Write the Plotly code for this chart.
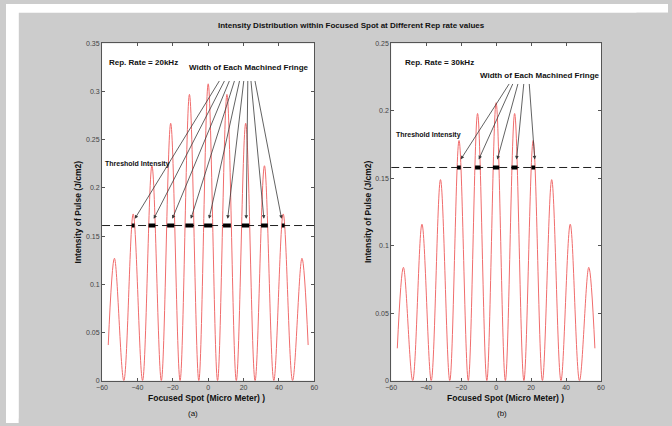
import plotly.graph_objects as go

# ---------------- data ----------------
# (a) Rep. rate 20 kHz
pos_a = [-56.5, -53.0, -47.7, -42.4, -37.1, -31.8, -26.5, -21.2, -15.9, -10.6, -5.3, 0.0,
         5.3, 10.6, 15.9, 21.2, 26.5, 31.8, 37.1, 42.4, 47.7, 53.0, 56.5]
int_a = [0.037, 0.127, 0.0, 0.173, 0.0, 0.223, 0.0, 0.267, 0.0, 0.297, 0.0, 0.308,
         0.0, 0.297, 0.0, 0.267, 0.0, 0.223, 0.0, 0.173, 0.0, 0.127, 0.037]
threshold_a = 0.161
fringe_a_start = [-43.2, -33.7, -23.2, -12.9, -2.3, 8.4, 19.0, 29.9, 41.6]
fringe_a_end = [-41.6, -29.9, -19.2, -8.3, 2.3, 12.8, 23.2, 33.7, 43.2]
arrow_a_head_x = [-41.5, -30.8, -20.3, -9.8, 0.5, 11.0, 21.5, 31.5, 41.5]
arrow_a_head_y = [0.168] * 9
arrow_a_tail_x = [6.8, 9.6, 12.3, 15.1, 17.9, 20.2, 22.4, 24.1, 26.3]
arrow_a_tail_y = [0.3125] * 9

# (b) Rep. rate 30 kHz
pos_b = [-56.5, -53.0, -47.7, -42.4, -37.1, -31.8, -26.5, -21.2, -15.9, -10.6, -5.3, 0.0,
         5.3, 10.6, 15.9, 21.2, 26.5, 31.8, 37.1, 42.4, 47.7, 53.0, 56.5]
int_b = [0.024, 0.084, 0.0, 0.116, 0.0, 0.149, 0.0, 0.178, 0.0, 0.198, 0.0, 0.206,
         0.0, 0.198, 0.0, 0.178, 0.0, 0.149, 0.0, 0.116, 0.0, 0.084, 0.024]
threshold_b = 0.158
fringe_b_start = [-22.3, -12.0, -1.8, 8.8, 20.2]
fringe_b_end = [-20.2, -8.9, 1.8, 12.2, 22.3]
arrow_b_head_x = [-20.2, -9.9, 0.7, 11.7, 22.1]
arrow_b_head_y = [0.164] * 5
arrow_b_tail_x = [8.0, 9.9, 12.7, 15.9, 18.9]
arrow_b_tail_y = [0.221] * 5

x_ticks = [-60, -40, -20, 0, 20, 40, 60]

# ---------------- styling ----------------
W, H = 672, 426
FONT = "Liberation Sans Narrow, Liberation Sans, Arial, sans-serif"
CURVE = "rgb(240,108,108)"
BLACK = "#222222"
GRAY = "#cccccc"


def px(x):
    return x / W


def py(y):
    return 1 - y / H


def segs(starts, ends, y):
    xs, ys = [], []
    for s, e in zip(starts, ends):
        xs += [s, e, None]
        ys += [y, y, None]
    return xs, ys


fig = go.Figure()

panels = [
    (pos_a, int_a, threshold_a, fringe_a_start, fringe_a_end, "x", "y"),
    (pos_b, int_b, threshold_b, fringe_b_start, fringe_b_end, "x2", "y2"),
]
for pos, inten, thr, fs, fe, xa, ya in panels:
    fig.add_trace(go.Scatter(x=pos, y=inten, mode="lines", xaxis=xa, yaxis=ya,
                             line=dict(color=CURVE, width=1, shape="spline", smoothing=1.0),
                             hoverinfo="skip", showlegend=False))
    fig.add_trace(go.Scatter(x=[-60, 60], y=[thr, thr], mode="lines", xaxis=xa, yaxis=ya,
                             line=dict(color=BLACK, width=1, dash="8px,4px"),
                             hoverinfo="skip", showlegend=False))
    mx, my = segs(fs, fe, thr)
    fig.add_trace(go.Scatter(x=mx, y=my, mode="lines", xaxis=xa, yaxis=ya,
                             line=dict(color="black", width=4),
                             hoverinfo="skip", showlegend=False))

annotations = []
for hx, hy, tx, ty, xa, ya in [
    (arrow_a_head_x, arrow_a_head_y, arrow_a_tail_x, arrow_a_tail_y, "x", "y"),
    (arrow_b_head_x, arrow_b_head_y, arrow_b_tail_x, arrow_b_tail_y, "x2", "y2"),
]:
    for a, b, c, d in zip(hx, hy, tx, ty):
        annotations.append(dict(x=a, y=b, ax=c, ay=d, xref=xa, yref=ya, axref=xa, ayref=ya,
                                text="", showarrow=True, arrowhead=2, arrowsize=0.9,
                                arrowwidth=0.8, arrowcolor="#3a3a3a"))


def text(t, x, y, size=8.5, xanchor="center", angle=0, bold=True, color="#111111"):
    annotations.append(dict(text=f"<b>{t}</b>" if bold else t, x=x, y=y, xref="paper", yref="paper",
                            xanchor=xanchor, yanchor="middle", showarrow=False, textangle=angle,
                            font=dict(family=FONT, size=size, color=color)))


text("Intensity Distribution within Focused Spot at Different Rep rate values", px(351), py(22), size=8)
# panel (a)
text("Rep. Rate = 20kHz", px(103), py(59), size=8, xanchor="left")
text("Width of Each Machined Fringe", px(247), py(65), size=8)
text("Threshold Intensity", px(98), py(163), size=7, xanchor="left")
text("Focused Spot (Micro Meter) )", px(204), py(401), size=8.5)
text("(a)", px(190), py(416), size=8, bold=False)
text("Intensity of Pulse (J/cm2)", px(73), py(211), size=8.5, angle=-90)
# panel (b)
text("Rep. Rate = 30kHz", px(403), py(59), size=8, xanchor="left")
text("Width of Each Machined Fringe", px(542), py(73), size=8)
text("Threshold Intensity", px(394), py(133), size=7, xanchor="left")
text("Focused Spot (Micro Meter) )", px(507), py(401), size=8.5)
text("(b)", px(503), py(416), size=8, bold=False)
text("Intensity of Pulse (J/cm2)", px(367), py(211), size=8.5, angle=-90)

axis_common = dict(showline=True, linecolor="#555555", linewidth=1, mirror="ticks",
                   ticks="inside", ticklen=3, tickcolor="#555555", showgrid=False,
                   zeroline=False, tickfont=dict(family=FONT, size=7, color="#444444"),
                   fixedrange=True)

fig.update_layout(
    width=W, height=H, autosize=False,
    margin=dict(l=0, r=0, t=0, b=0),
    paper_bgcolor=GRAY, plot_bgcolor="white",
    showlegend=False,
    xaxis=dict(domain=[px(97.5), px(313)], range=[-60, 60], tickvals=x_ticks, anchor="y", **axis_common),
    yaxis=dict(domain=[py(383), py(40)], range=[0, 0.35], dtick=0.05, anchor="x", **axis_common),
    xaxis2=dict(domain=[px(391), px(604)], range=[-60, 60], tickvals=x_ticks, anchor="y2", **axis_common),
    yaxis2=dict(domain=[py(383), py(40)], range=[0, 0.25], dtick=0.05, anchor="x2", **axis_common),
    annotations=annotations,
    shapes=[
        dict(type="rect", xref="paper", yref="paper", x0=0, x1=1, y0=py(9), y1=1,
             fillcolor="white", line=dict(width=0), layer="below"),
        dict(type="rect", xref="paper", yref="paper", x0=0, x1=px(13), y0=0, y1=1,
             fillcolor="white", line=dict(width=0), layer="below"),
        # plain grey cover for the right and bottom margins of the grey figure panel
        dict(type="rect", xref="paper", yref="paper", x0=px(640), x1=1, y0=0, y1=py(9),
             fillcolor=GRAY, line=dict(width=0), layer="above"),
        dict(type="rect", xref="paper", yref="paper", x0=px(13), x1=1, y0=0, y1=py(421.5),
             fillcolor=GRAY, line=dict(width=0), layer="above"),
    ],
)

fig.write_html(
    "out.html", config={"displayModeBar": False},
    post_script=("document.documentElement.style.margin='0';document.body.style.margin='0';"
                 "document.documentElement.style.overflow='hidden';document.body.style.overflow='hidden';"
                 "document.body.style.background='#cccccc';"
                 "document.documentElement.style.background='#cccccc';"),
)
